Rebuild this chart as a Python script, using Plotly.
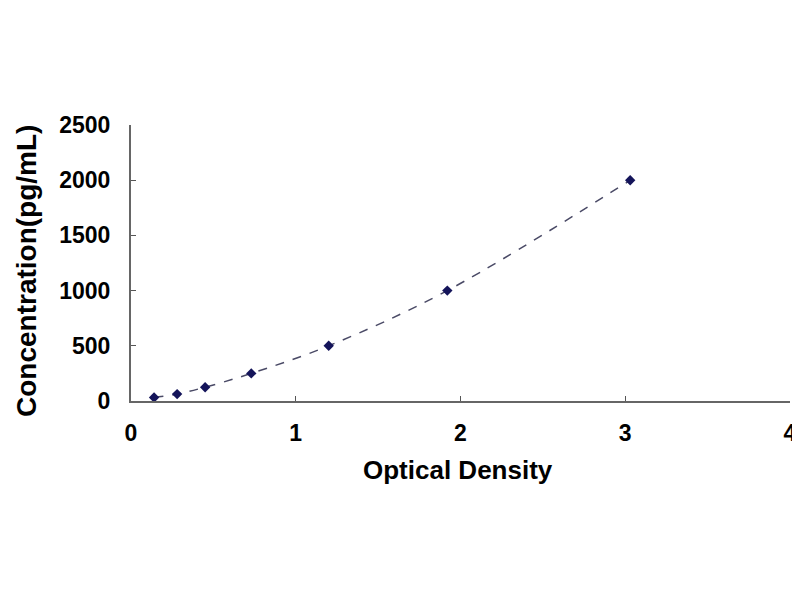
import plotly.graph_objects as go

od = [0.14, 0.28, 0.45, 0.73, 1.20, 1.92, 3.03]
conc = [31.25, 62.5, 125, 250, 500, 1000, 2000]
x_ticks = [0, 1, 2, 3, 4]
y_ticks = [0, 500, 1000, 1500, 2000, 2500]

fig = go.Figure()
fig.add_trace(go.Scatter(
    x=od, y=conc, mode="lines+markers",
    line=dict(color="#4a4a66", width=1.5, dash="dash", shape="spline"),
    marker=dict(symbol="diamond", size=8, color="#14145a"),
    showlegend=False,
))

ff = "Liberation Sans, Arial, sans-serif"
OFF = 8  # page body margin
# desired plot area in page pixels
px0, px1, py0, py1 = 131, 790, 125, 401
L, T = px0 - OFF, py0 - OFF
R = 800 - (px1 - OFF)
B = 600 - (py1 - OFF)
pw, ph = px1 - px0, py1 - py0


def paper_x(p):
    return (p - px0) / pw


def paper_y(p):
    return (py1 - p) / ph


fig.update_layout(
    width=800, height=600,
    paper_bgcolor="white", plot_bgcolor="white",
    margin=dict(l=L, r=R, t=T, b=B),
    font=dict(family=ff, color="black"),
    xaxis=dict(
        range=[0, 4], tickvals=x_ticks, ticks="inside", ticklen=5,
        tickcolor="#555", showline=True, linecolor="#666", linewidth=2,
        showgrid=False, zeroline=False, automargin=False,
        ticklabelstandoff=10,
        tickfont=dict(size=23, family=ff, weight="bold"),
    ),
    yaxis=dict(
        range=[0, 2500], tickvals=y_ticks, ticks="inside", ticklen=5,
        tickcolor="#555", showline=True, linecolor="#666", linewidth=2,
        showgrid=False, zeroline=False, automargin=False,
        ticklabelstandoff=14,
        tickfont=dict(size=23, family=ff, weight="bold"),
    ),
    annotations=[
        dict(text="<b>Optical Density</b>", xref="paper", yref="paper",
             x=paper_x(458), y=paper_y(470), xanchor="center", yanchor="middle",
             showarrow=False, font=dict(size=26, family=ff, color="black")),
        dict(text="<b>Concentration(pg/mL)</b>", xref="paper", yref="paper",
             x=paper_x(26), y=paper_y(271), xanchor="center", yanchor="middle",
             textangle=-90, showarrow=False, font=dict(size=28, family=ff, color="black")),
    ],
)
fig.write_html("out.html")
